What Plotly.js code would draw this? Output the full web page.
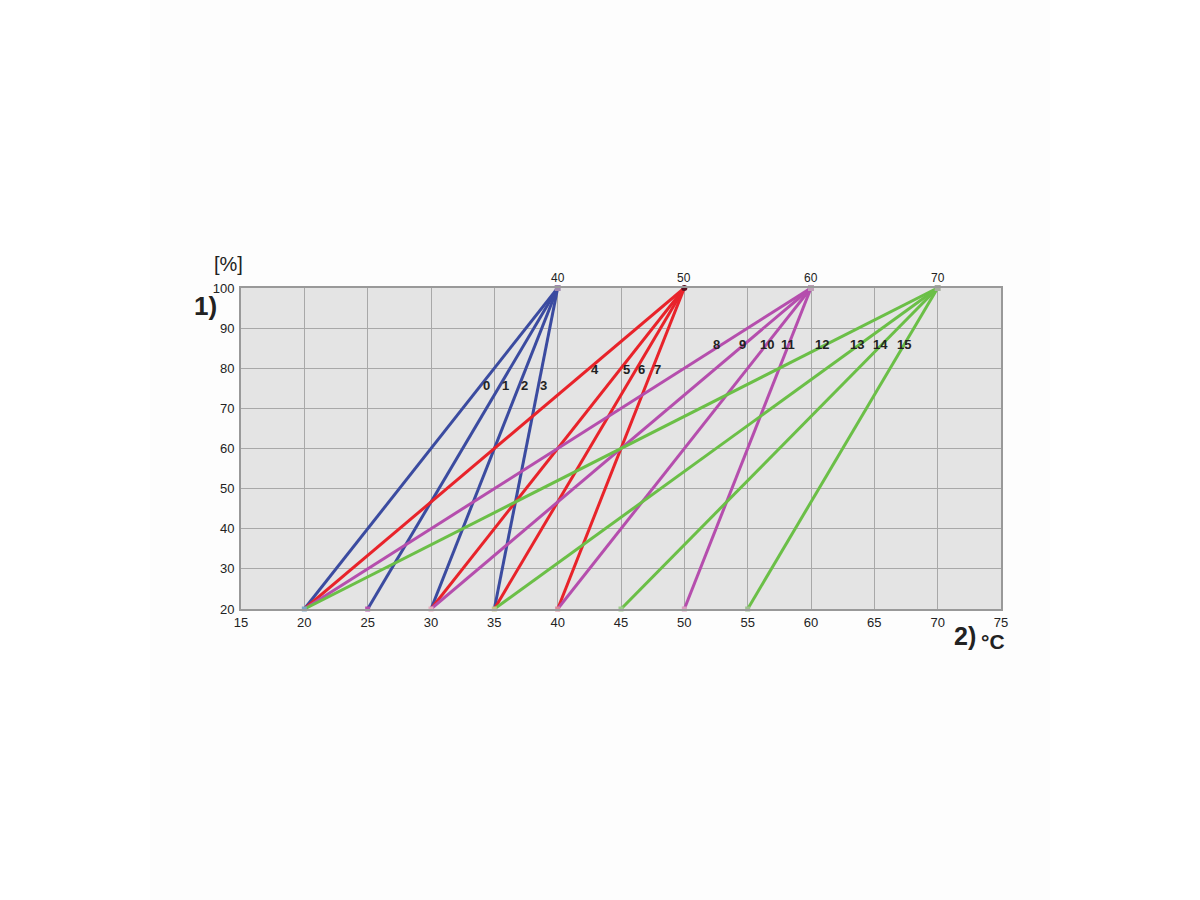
<!DOCTYPE html>
<html><head><meta charset="utf-8">
<script src="https://cdn.plot.ly/plotly-3.0.1.min.js"></script>
<style>
html,body{margin:0;padding:0;background:#ffffff;}
#bg{position:absolute;left:150px;top:0;width:900px;height:900px;background:#fdfdfd;}
#chart{position:absolute;left:0;top:0;width:1200px;height:900px;}
</style></head>
<body><div id="bg"></div><div id="chart"></div>
<script>
// Line ids and endpoints (temperature at 20% and at 100%)
const lineIds   = ['0','1','2','3','4','5','6','7','8','9','10','11','12','13','14','15'];
const startTemp = [20,25,30,35, 20,30,35,40, 20,30,40,50, 20,35,45,55];
const endTemp   = [40,40,40,40, 50,50,50,50, 60,60,60,60, 70,70,70,70];
const startPct  = 20;
const endPct    = 100;
const groupColor = ['#3b4ba0','#e8232a','#b54ead','#6bbf47'];
// Label positions for the line numbers
const labelX = [34.4,35.85,37.35,38.85, 42.95,45.4,46.65,47.9, 52.5,54.6,56.5,58.2, 60.9,63.6,65.5,67.35];
const labelY = [75.6,75.6,75.6,75.6, 79.8,79.8,79.8,79.8, 85.8,85.8,85.8,85.8, 85.8,85.8,85.8,85.8];
const topTicks = [40,50,60,70];
const xTicks = [15,20,25,30,35,40,45,50,55,60,65,70,75];
const yTicks = [20,30,40,50,60,70,80,90,100];

const traces = [];
lineIds.forEach((id,i)=>{
  traces.push({
    type:'scatter', mode:'lines',
    x:[startTemp[i], endTemp[i]], y:[startPct, endPct],
    line:{color:groupColor[Math.floor(i/4)], width:3},
    hoverinfo:'skip', showlegend:false, cliponaxis:false
  });
});
// endpoint markers
traces.push({type:'scatter',mode:'markers',x:[20,25,30,35,40,45,50,55],y:[20,20,20,20,20,20,20,20],
  marker:{symbol:'square',size:5,color:['#7aa7c7','#b54ead','#e6b0c0','#c9c48a','#d98a9a','#9ccc8a','#d9a0c0','#a0c090']},
  showlegend:false,cliponaxis:false,hoverinfo:'skip'});
traces.push({type:'scatter',mode:'markers',x:[40,50,60,70],y:[100,100,100,100],
  marker:{symbol:['square','circle','square','square'],size:6,color:['#a08ab0','#5a1020','#c0a0b8','#a8b0a0']},
  showlegend:false,cliponaxis:false,hoverinfo:'skip'});

const F = 'Liberation Sans, Arial, sans-serif';
const ann = [];
lineIds.forEach((id,i)=>{
  ann.push({x:labelX[i],y:labelY[i],text:'<b>'+id+'</b>',showarrow:false,
    font:{family:F,size:13,color:'#222'}});
});
topTicks.forEach(t=>{
  ann.push({x:t,y:100,text:String(t),showarrow:false,yanchor:'bottom',yshift:1,
    font:{family:F,size:12,color:'#222'}});
});
ann.push({xref:'paper',yref:'paper',x:-0.016,y:1.035,xanchor:'center',yanchor:'bottom',text:'[%]',showarrow:false,
  font:{family:F,size:20,color:'#222'}});
ann.push({xref:'paper',yref:'paper',x:-0.047,y:0.944,xanchor:'center',yanchor:'middle',text:'<b>1)</b>',showarrow:false,
  font:{family:F,size:26,color:'#222'}});
ann.push({xref:'paper',yref:'paper',x:0.953,y:-0.083,xanchor:'center',yanchor:'middle',
  text:'<b>2)</b>',showarrow:false,font:{family:F,size:25,color:'#222'}});
ann.push({xref:'paper',yref:'paper',x:0.989,y:-0.1,xanchor:'center',yanchor:'middle',
  text:'<b>°C</b>',showarrow:false,font:{family:F,size:21,color:'#222'}});

const layout = {
  width:1200,height:900,
  margin:{l:241,r:199,t:288,b:291,pad:0},
  paper_bgcolor:'rgba(0,0,0,0)', plot_bgcolor:'#e4e4e4',
  showlegend:false,
  xaxis:{range:[15,75],tickvals:xTicks,ticktext:xTicks.map(String),showgrid:true,gridcolor:'#a8a8a8',gridwidth:1,
    zeroline:false,showline:true,linecolor:'#999',linewidth:2,mirror:true,ticks:'',
    tickfont:{family:F,size:13,color:'#222'},ticklabelstandoff:0,fixedrange:true},
  yaxis:{range:[20,100],tickvals:yTicks,ticktext:yTicks.map(String),showgrid:true,gridcolor:'#a8a8a8',gridwidth:1,
    zeroline:false,showline:true,linecolor:'#999',linewidth:2,mirror:true,ticks:'',
    tickfont:{family:F,size:13,color:'#222'},ticklabelstandoff:2,fixedrange:true},
  annotations:ann
};
Plotly.newPlot('chart',traces,layout,{displayModeBar:false,staticPlot:true});
</script></body></html>
